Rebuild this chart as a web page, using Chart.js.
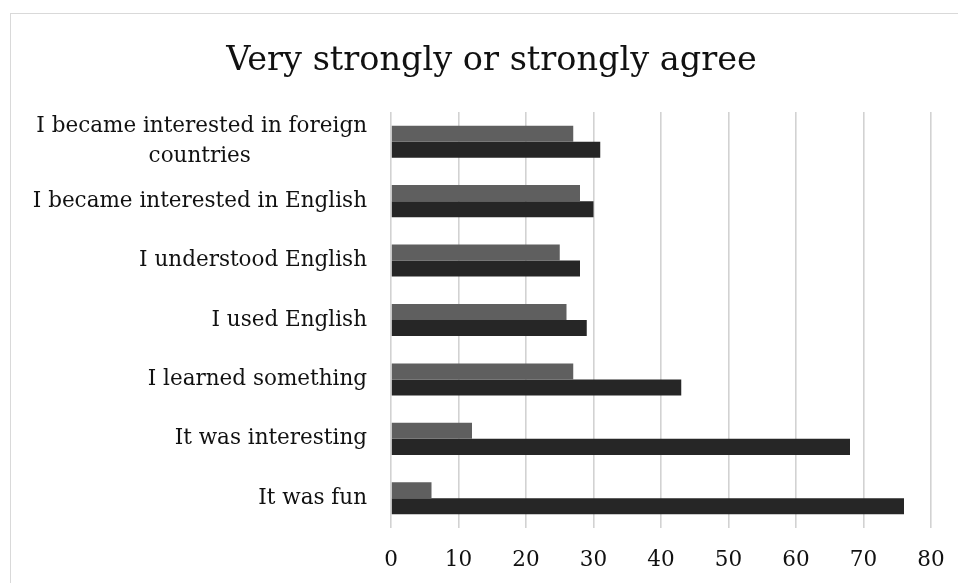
<!DOCTYPE html>
<html>
<head>
<meta charset="utf-8">
<script src="https://cdn.jsdelivr.net/npm/chart.js@4/dist/chart.umd.min.js"></script>
<style>
  html, body { margin: 0; padding: 0; background: #ffffff; overflow: hidden; }
  #wrap { position: relative; width: 958px; height: 583px; overflow: hidden; }
  #frame { position: absolute; left: 10px; top: 13px; width: 1000px; height: 640px; border: 1.5px solid #d9d9d9; box-sizing: border-box; }
  canvas { position: absolute; left: 0; top: 0; }
</style>
</head>
<body>
<div id="wrap">
  <div id="frame"></div>
  <canvas id="c" width="958" height="583"></canvas>
</div>
<script>
const titleText = "Very strongly or strongly agree";
const categories = [
  ["I became interested in foreign", "countries"],
  "I became interested in English",
  "I understood English",
  "I used English",
  "I learned something",
  "It was interesting",
  "It was fun"
];
const seriesA = [27, 28, 25, 26, 27, 12, 6];
const seriesB = [31, 30, 28, 29, 43, 68, 76];
const xTicks = [0, 10, 20, 30, 40, 50, 60, 70, 80];

const FONT = "'DejaVu Serif', 'Liberation Serif', serif";
const LABEL_SIZE = 21.5;

// center the second line of a wrapped label under the first (right-aligned text)
function centerWrapped(lines) {
  const m = document.createElement('canvas').getContext('2d');
  m.font = LABEL_SIZE + "px " + FONT;
  const w1 = m.measureText(lines[0]).width;
  const out = [lines[0]];
  for (let i = 1; i < lines.length; i++) {
    const w2 = m.measureText(lines[i]).width;
    const sp = m.measureText(" ").width;
    const n = Math.max(0, Math.round((w1 - w2) / 2 / sp));
    out.push(lines[i] + " ".repeat(n));
  }
  return out;
}
const labels = categories.map(c => Array.isArray(c) ? centerWrapped(c) : c);

// shift the title's box so it is centred where the reference title sits
const titleShift = {
  id: 'titleShift',
  afterLayout(chart) {
    if (chart.titleBlock) { chart.titleBlock.left = 45; chart.titleBlock.right = 938; }
  }
};

new Chart(document.getElementById('c'), {
  type: 'bar',
  data: {
    labels: labels,
    datasets: [
      { label: 'A', data: seriesA, backgroundColor: '#5f5f5f', categoryPercentage: 0.54, barPercentage: 1.0 },
      { label: 'B', data: seriesB, backgroundColor: '#262626', categoryPercentage: 0.54, barPercentage: 1.0 }
    ]
  },
  plugins: [titleShift],
  options: {
    indexAxis: 'y',
    responsive: false,
    animation: false,
    layout: { padding: { left: 0, right: 27, top: 0, bottom: 0 } },
    plugins: {
      legend: { display: false },
      tooltip: { enabled: false },
      title: {
        display: true,
        text: titleText,
        color: '#111111',
        font: { family: FONT, size: 33.5, weight: 'normal', lineHeight: 1.2 },
        padding: { top: 41, bottom: 30.8 }
      }
    },
    scales: {
      x: {
        min: 0, max: 80,
        afterBuildTicks: (axis) => { axis.ticks = xTicks.map(v => ({ value: v })); },
        afterFit: (axis) => { axis.height = 55; axis.paddingRight = 0; axis.paddingLeft = 0; },
        grid: { color: '#d2d2d2', lineWidth: 1.6, drawTicks: false },
        border: { display: false },
        ticks: { color: '#111111', padding: 20, font: { family: FONT, size: LABEL_SIZE } }
      },
      y: {
        afterFit: (axis) => { axis.width = 391; },
        grid: { display: false, drawTicks: false },
        border: { display: false },
        ticks: { color: '#111111', padding: 24, autoSkip: false, font: { family: FONT, size: LABEL_SIZE, lineHeight: 1.4 } }
      }
    }
  }
});
</script>
</body>
</html>
